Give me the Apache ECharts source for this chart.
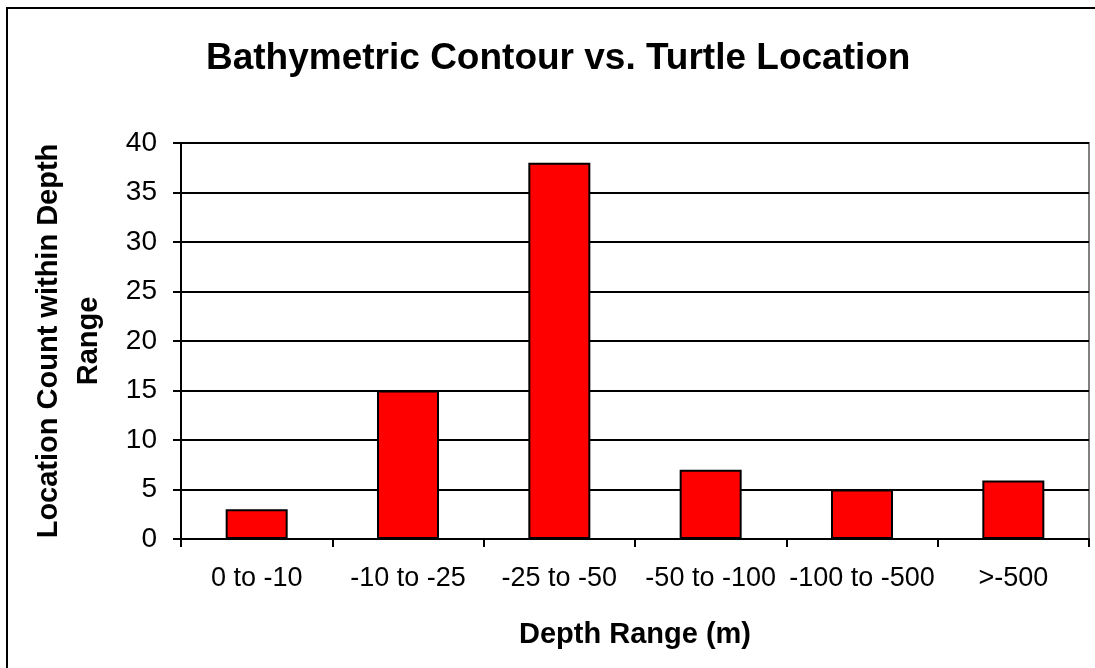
<!DOCTYPE html>
<html>
<head>
<meta charset="utf-8">
<script src="https://cdn.jsdelivr.net/npm/echarts@6/dist/echarts.min.js"></script>
<style>
  html, body { margin: 0; padding: 0; background: #fff; }
  #main { width: 1095px; height: 668px; }
</style>
</head>
<body>
<div id="main"></div>
<script>
// data
var depthRanges = ['0 to -10', '-10 to -25', '-25 to -50', '-50 to -100', '-100 to -500', '>-500'];
var locationCounts = [3, 15, 38, 7, 5, 5.9];

var chart = echarts.init(document.getElementById('main'));

var font = '"Liberation Sans", Arial, sans-serif';

var option = {
  backgroundColor: '#fff',
  animation: false,
  textStyle: { fontFamily: font },
  title: {
    text: 'Bathymetric Contour vs. Turtle Location',
    left: 201,
    top: 35,
    textStyle: { fontFamily: font, fontSize: 37, fontWeight: 'bold', color: '#000' }
  },
  // outer frame: only its left and top edges fall inside the picture
  graphic: [{
    type: 'line',
    shape: { x1: 7, y1: 8, x2: 7, y2: 668 },
    style: { stroke: '#000', lineWidth: 2 },
    silent: true
  }, {
    type: 'line',
    shape: { x1: 6, y1: 8, x2: 1095, y2: 8 },
    style: { stroke: '#000', lineWidth: 2 },
    silent: true
  }],
  grid: {
    left: 181,
    right: 6,
    top: 143,
    bottom: 129,
    show: true,
    borderColor: '#808080',
    borderWidth: 2,
    containLabel: false
  },
  xAxis: {
    type: 'category',
    data: depthRanges,
    name: 'Depth Range (m)',
    nameLocation: 'middle',
    nameGap: 81,
    nameTextStyle: { fontFamily: font, fontSize: 29, fontWeight: 'bold', color: '#000' },
    axisLine: { lineStyle: { color: '#000', width: 2 } },
    axisTick: { show: true, alignWithLabel: false, length: 8, lineStyle: { color: '#000', width: 2 } },
    axisLabel: { fontFamily: font, fontSize: 27, color: '#000', margin: 26, interval: 0 },
    splitLine: { show: false }
  },
  yAxis: {
    type: 'value',
    min: 0,
    max: 40,
    interval: 5,
    name: 'Location Count within Depth\nRange',
    nameLocation: 'middle',
    nameGap: 72,
    nameTextStyle: { fontFamily: font, fontSize: 29, fontWeight: 'bold', color: '#000', lineHeight: 40 },
    axisLine: { show: true, lineStyle: { color: '#000', width: 2 } },
    axisTick: { show: true, length: 8, lineStyle: { color: '#000', width: 2 } },
    axisLabel: { fontFamily: font, fontSize: 28, color: '#000', margin: 24 },
    splitLine: { show: true, lineStyle: { color: '#000', width: 2 } }
  },
  series: [{
    type: 'bar',
    data: locationCounts,
    barWidth: 62,
    itemStyle: { color: '#ff0000', borderColor: '#000', borderWidth: 2 }
  }]
};

chart.setOption(option);
</script>
</body>
</html>
